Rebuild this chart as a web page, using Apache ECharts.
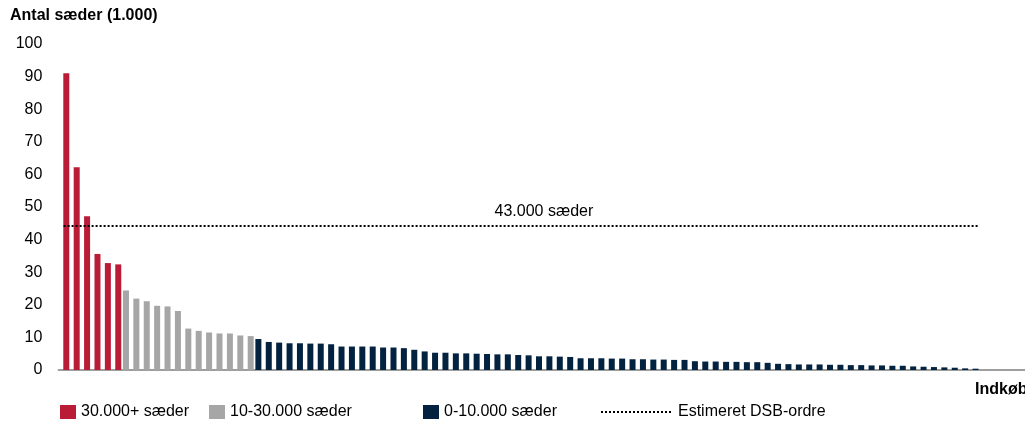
<!DOCTYPE html>
<html>
<head>
<meta charset="utf-8">
<script src="https://cdn.jsdelivr.net/npm/echarts@6/dist/echarts.min.js"></script>
<style>
  html, body { margin: 0; padding: 0; background: #ffffff; }
  #chart { width: 1025px; height: 426px; }
</style>
</head>
<body>
<div id="chart"></div>
<script>
// seats per purchase (1.000), sorted high to low
var bigOrders = [91.0, 62.2, 47.2, 35.6, 32.8, 32.4];
var midOrders = [24.4, 21.9, 21.1, 19.7, 19.5, 18.1, 12.7, 12.0, 11.5, 11.2, 11.2, 10.6, 10.4];
var smallOrders = [
    9.5, 8.6, 8.4, 8.2, 8.2, 8.1, 8.1, 7.9, 7.2, 7.2, 7.2, 7.2, 6.9, 6.9, 6.7, 6.2, 5.7,
    5.3, 5.3, 5.1, 5.1, 5.0, 4.9, 4.8, 4.8, 4.6, 4.5, 4.2, 4.2, 4.1, 4.0, 3.6, 3.6, 3.6, 3.5,
    3.5, 3.3, 3.3, 3.2, 3.2, 3.1, 3.1, 2.7, 2.6, 2.6, 2.5, 2.5, 2.4, 2.4, 2.2, 1.9, 1.8,
    1.7, 1.7, 1.7, 1.6, 1.6, 1.5, 1.5, 1.4, 1.4, 1.3, 1.3, 1.1, 1.0, 0.9, 0.8, 0.7, 0.5, 0.4
];
var emptySlots = 4;
var dsbOrder = 44.3;
var dsbLabel = '43.000 sæder';
var yTicks = [0, 100, 10];

var seriesNames = ['30.000+ sæder', '10-30.000 sæder', '0-10.000 sæder', 'Estimeret DSB-ordre'];
var colors = ['#BA1B37', '#A6A6A6', '#03223F'];

var nBars = bigOrders.length + midOrders.length + smallOrders.length;
var categories = [];
var bigData = [], midData = [], smallData = [];
for (var i = 0; i < nBars + emptySlots; i++) {
    categories.push(String(i + 1));
    bigData.push(null);
    midData.push(null);
    smallData.push(null);
}
bigOrders.forEach(function (v, k) { bigData[k] = v; });
midOrders.forEach(function (v, k) { midData[bigOrders.length + k] = v; });
smallOrders.forEach(function (v, k) { smallData[bigOrders.length + midOrders.length + k] = v; });

var fontName = 'Liberation Sans';
var chartDom = echarts.init(document.getElementById('chart'));

function legendAt(name, left, width) {
    return {
        data: [name],
        left: left,
        top: 404,
        padding: 0,
        itemWidth: width,
        itemHeight: 14,
        icon: 'rect',
        selectedMode: false,
        textStyle: { fontFamily: fontName, fontSize: 16, color: '#000' }
    };
}

var lineLegend = legendAt(seriesNames[3], 600, 72);
delete lineLegend.icon;
lineLegend.itemStyle = { opacity: 0 };

var barBase = {
    type: 'bar',
    barWidth: 6,
    barGap: '-55%',
    silent: true
};

var chartOptions = {
    animation: false,
    title: [
        {
            text: 'Antal sæder (1.000)',
            left: 10,
            top: 8,
            padding: 0,
            textStyle: { fontFamily: fontName, fontSize: 16, fontWeight: 'bold', color: '#000' }
        },
        {
            text: 'Indkøb',
            left: 975,
            top: 382,
            padding: 0,
            textStyle: { fontFamily: fontName, fontSize: 16, fontWeight: 'bold', color: '#000' }
        }
    ],
    legend: [
        legendAt(seriesNames[0], 60, 16),
        legendAt(seriesNames[1], 209, 16),
        legendAt(seriesNames[2], 423, 16),
        lineLegend
    ],
    grid: {
        left: 58.4,
        top: 44,
        width: (nBars + emptySlots) * 10.56,
        height: 326
    },
    xAxis: [
        {
            type: 'category',
            data: categories,
            axisLine: { show: true, lineStyle: { color: '#7f7f7f', width: 1.5 } },
            axisTick: { show: false },
            axisLabel: { show: false }
        }
    ],
    yAxis: [
        {
            type: 'value',
            min: yTicks[0],
            max: yTicks[1],
            interval: yTicks[2],
            axisLine: { show: false },
            axisTick: { show: false },
            splitLine: { show: false },
            axisLabel: { margin: 16, fontFamily: fontName, fontSize: 16, color: '#000' }
        }
    ],
    series: [
        Object.assign({}, barBase, { name: seriesNames[2], data: smallData, itemStyle: { color: colors[2] } }),
        Object.assign({}, barBase, { name: seriesNames[1], data: midData, itemStyle: { color: colors[1] } }),
        Object.assign({}, barBase, { name: seriesNames[0], data: bigData, itemStyle: { color: colors[0] } }),
        {
            name: seriesNames[3],
            type: 'line',
            data: [],
            symbol: 'none',
            lineStyle: { color: '#000', width: 2, type: [2, 2] },
            itemStyle: { color: '#000' },
            markLine: {
                silent: true,
                symbol: 'none',
                lineStyle: { color: '#000', width: 2, type: [2, 2] },
                label: {
                    show: true,
                    position: 'middle',
                    formatter: dsbLabel,
                    distance: 6,
                    padding: [0, 0, 0, 46],
                    fontFamily: fontName,
                    fontSize: 16,
                    color: '#000'
                },
                data: [
                    [
                        { coord: [categories[0], dsbOrder] },
                        { coord: [categories[nBars - 1], dsbOrder] }
                    ]
                ]
            }
        }
    ]
};

chartDom.setOption(chartOptions, true);
window.onresize = function () {
    chartDom.resize();
};
</script>
</body>
</html>
